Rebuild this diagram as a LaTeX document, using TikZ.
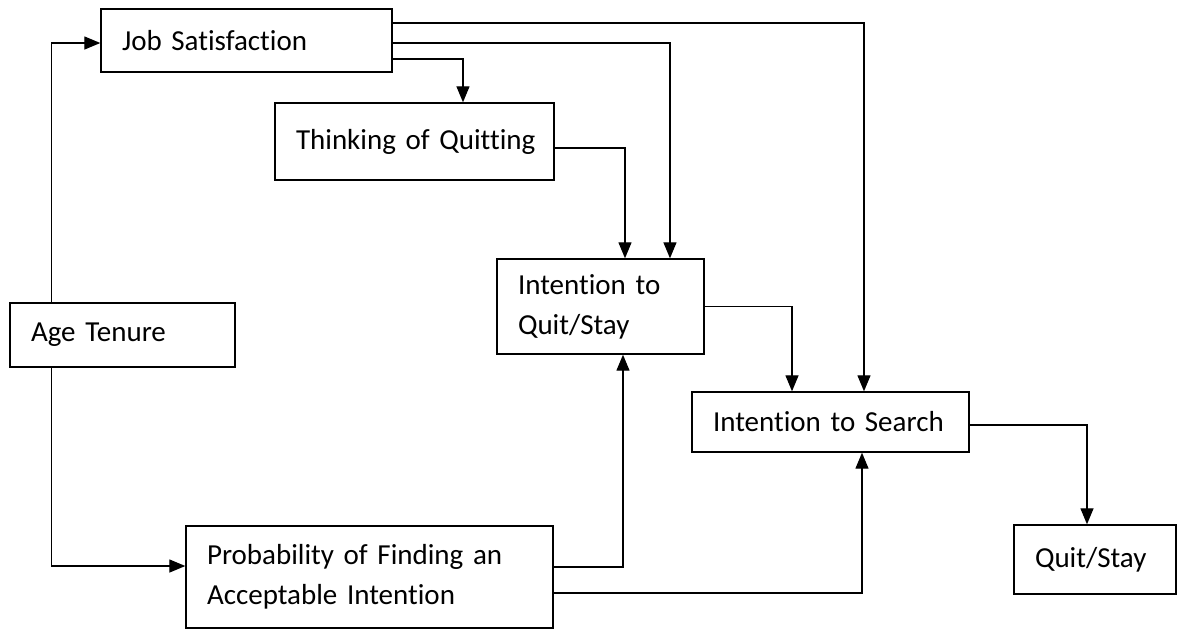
\documentclass[tikz,border=0pt]{standalone}
\usepackage{fontspec}
\setmainfont{Carlito}[Ligatures=NoCommon]
\usetikzlibrary{arrows.meta}
\begin{document}
\begin{tikzpicture}[x=0.02cm, y=-0.02cm,
  box/.style={draw, line width=0.8pt, align=left, inner xsep=0.42cm, inner ysep=0pt,
    font=\fontsize{16.5}{22.8}\selectfont},
  arr/.style={line width=0.75pt, -{Triangle[length=0.32cm, width=0.26cm]}}]
  \useasboundingbox (0,0) rectangle (1178,630);
  \node[box, text width=4.98cm, minimum height=1.26cm] (js) at (246.5,40.5) {Job Satisfaction};
  \node[box, text width=4.74cm, minimum height=1.54cm] (think) at (414.5,141.5) {\mbox{Thinking of Quitting}};
  \node[box, text width=3.30cm, minimum height=1.90cm] (iq) at (600.5,306.5) {Intention to\\Quit/Stay};
  \node[box, text width=3.66cm, minimum height=1.28cm] (age) at (122.5,335) {Age Tenure};
  \node[box, text width=4.70cm, minimum height=1.20cm] (is) at (830.5,422) {Intention to Search};
  \node[box, text width=6.50cm, minimum height=2.04cm] (prob) at (369.5,577) {Probability of Finding an\\Acceptable Intention};
  \node[box, text width=2.40cm, minimum height=1.38cm] (qs) at (1095,559.5) {Quit/Stay};
  \draw[arr] ([xshift=0.84cm]age.north west) |- ([yshift=-0.05cm]js.west);
  \draw[arr] ([xshift=0.84cm]age.south west) |- ([yshift=0.22cm]prob.west);
  \draw[arr] ([yshift=-0.37cm]js.east) -| ([xshift=0.97cm]think.north);
  \draw[arr] ([yshift=-0.05cm]js.east) -| ([xshift=1.39cm]iq.north);
  \draw[arr] ([yshift=0.35cm]js.east) -| ([xshift=0.67cm]is.north);
  \draw[arr] ([yshift=-0.13cm]think.east) -| ([xshift=0.49cm]iq.north);
  \draw[arr] (iq.east) -| ([xshift=-0.77cm]is.north);
  \draw[arr] ([yshift=0.2cm]prob.east) -| ([xshift=0.45cm]iq.south);
  \draw[arr] ([yshift=-0.32cm]prob.east) -| ([xshift=0.63cm]is.south);
  \draw[arr] ([yshift=-0.06cm]is.east) -| ([xshift=-0.16cm]qs.north);
\end{tikzpicture}
\end{document}
